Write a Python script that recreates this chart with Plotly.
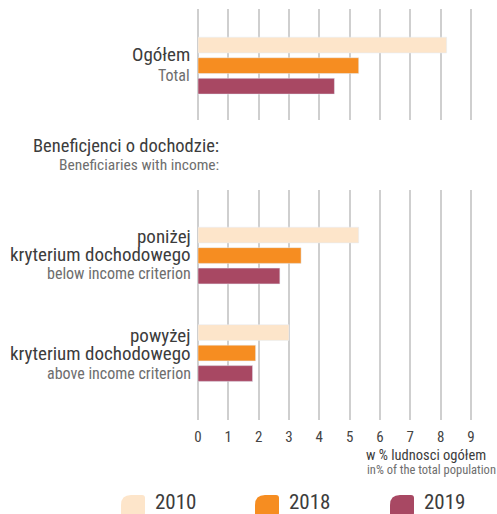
import plotly.graph_objects as go

# ---- data ----
years = ["2010", "2018", "2019"]
colors = ["#FDE5CA", "#F68D21", "#A84863"]
cat_top = ["Ogółem"]
cat_bottom = ["poniżej", "powyżej"]
vals_top = {"2010": [8.2], "2018": [5.3], "2019": [4.5]}
vals_bottom = {"2010": [5.3, 3.0], "2018": [3.4, 1.9], "2019": [2.7, 1.8]}
x_ticks = list(range(0, 10))

W, H = 497, 514
L, R, T, B = 198, 17, 9, 94
PW, PH = W - L - R, H - T - B

def xp(px):
    return (px - L) / PW

def yp(py):
    return (H - B - py) / PH

FONT = "Roboto Condensed, DejaVu Sans Condensed, sans-serif"
DARK = "#3c3c3c"
GRAY = "#6e6e6e"
GRID = "#cfcfcf"

fig = go.Figure()
for yr, c in zip(years, colors):
    fig.add_trace(go.Bar(y=cat_top, x=vals_top[yr], orientation="h", marker_color=c,
                         name=yr, xaxis="x", yaxis="y", showlegend=False, hoverinfo="x+name"))
    fig.add_trace(go.Bar(y=cat_bottom, x=vals_bottom[yr], orientation="h", marker_color=c,
                         name=yr, xaxis="x2", yaxis="y2", showlegend=False, hoverinfo="x+name"))

xcommon = dict(range=[0, 9.3], dtick=1, tick0=0, showgrid=True, gridcolor=GRID, gridwidth=2,
               zeroline=True, zerolinecolor=GRID, zerolinewidth=2, showline=False,
               fixedrange=True)

fig.update_layout(
    width=W, height=H,
    margin=dict(l=L, r=R, t=T, b=B),
    paper_bgcolor="white", plot_bgcolor="white",
    barmode="group", bargap=0.37, bargroupgap=0.23,
    font=dict(family=FONT, color=DARK),
    xaxis=dict(anchor="y", showticklabels=False, ticks="", **xcommon),
    xaxis2=dict(anchor="y2", showticklabels=True, ticks="",
                tickvals=x_ticks, ticktext=[str(v) for v in x_ticks],
                tickfont=dict(size=15, color="#444444", family=FONT), ticklabelstandoff=6,
                **xcommon),
    yaxis=dict(domain=[yp(120), 1], type="category", categoryarray=cat_top,
               range=[0.555, -0.578], showticklabels=False, showgrid=False,
               zeroline=False, ticks="", fixedrange=True),
    yaxis2=dict(domain=[0, yp(190)], type="category", categoryarray=cat_bottom,
                range=[1.687, -0.672], showticklabels=False, showgrid=False,
                zeroline=False, ticks="", fixedrange=True),
)

def ann(text, px, py, size, color, anchor="right"):
    fig.add_annotation(text=text, x=xp(px), y=yp(py), xref="paper", yref="paper",
                       xanchor=anchor, yanchor="middle", showarrow=False,
                       font=dict(size=size, color=color, family=FONT))

ann("Ogółem", 192, 55, 19, DARK)
ann("Total", 192, 75, 16, GRAY)
ann("Beneficjenci o dochodzie:", 221, 146, 18.5, DARK)
ann("Beneficiaries with income:", 221, 165, 15.5, GRAY)
ann("poniżej", 193, 236, 19, DARK)
ann("kryterium dochodowego", 193, 254, 19, DARK)
ann("below income criterion", 193, 273, 16, GRAY)
ann("powyżej", 193, 335, 19, DARK)
ann("kryterium dochodowego", 193, 353, 19, DARK)
ann("above income criterion", 193, 373, 16, GRAY)
ann("w % ludnosci ogółem", 364, 456, 14.5, DARK, anchor="left")
ann("in% of the total population", 365, 469, 12.5, GRAY, anchor="left")

# legend: leaf-shaped swatches + labels
leg_x = [121, 255, 390]
for yr, c, lx in zip(years, colors, leg_x):
    x0, x1, y0, y1 = lx, lx + 24, 495, 522
    r1, r2 = 10, 3
    pts = [
        f"M {xp(x0)},{yp(y0 + r1)}",
        f"Q {xp(x0)},{yp(y0)} {xp(x0 + r1)},{yp(y0)}",
        f"L {xp(x1 - r2)},{yp(y0)}",
        f"Q {xp(x1)},{yp(y0)} {xp(x1)},{yp(y0 + r2)}",
        f"L {xp(x1)},{yp(y1 - r1)}",
        f"Q {xp(x1)},{yp(y1)} {xp(x1 - r1)},{yp(y1)}",
        f"L {xp(x0 + r2)},{yp(y1)}",
        f"Q {xp(x0)},{yp(y1)} {xp(x0)},{yp(y1 - r2)}",
        "Z",
    ]
    fig.add_shape(type="path", path=" ".join(pts), xref="paper", yref="paper",
                  fillcolor=c, line=dict(width=0), layer="above")
    ann(yr, lx + 32, 502, 21, DARK, anchor="left")

fig.write_html("out.html", config={"displayModeBar": False},
               post_script="document.body.style.margin='0px';")
